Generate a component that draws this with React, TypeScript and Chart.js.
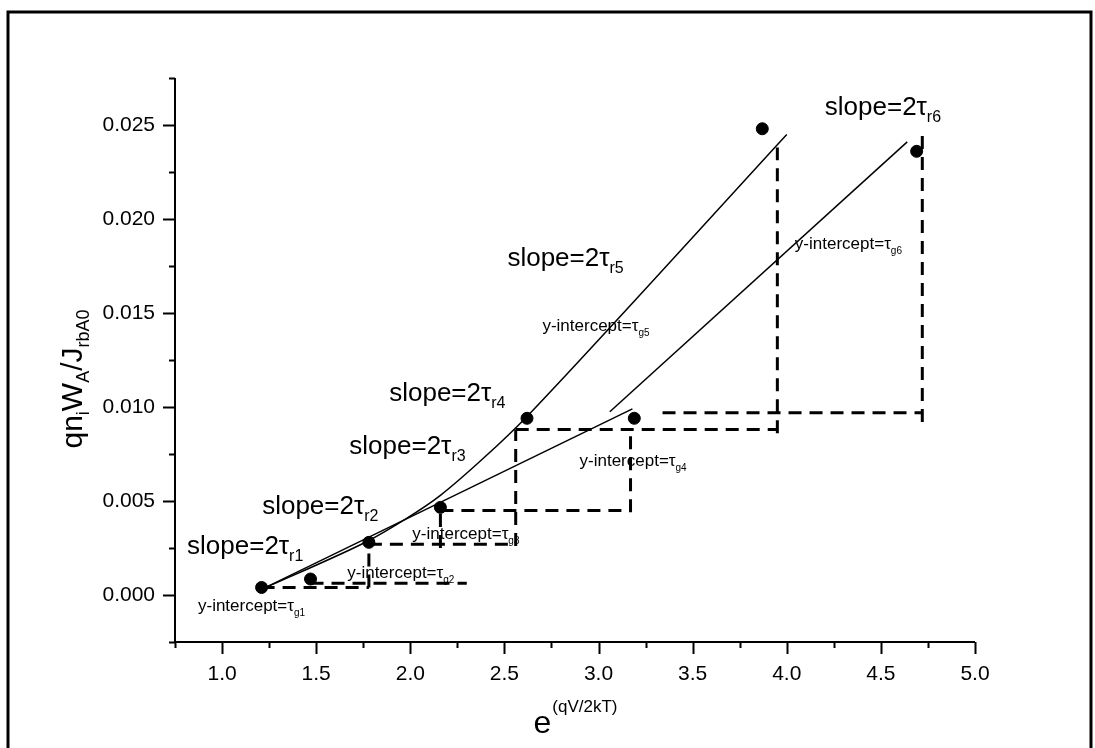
import React, { useEffect, useRef } from 'react';
import { Chart, registerables } from 'chart.js';

Chart.register(...registerables);

const FONT = '"Liberation Sans", Arial, Helvetica, sans-serif';

// measured points
const pointX = [1.21, 1.47, 1.78, 2.16, 2.62, 3.19, 3.87, 4.69];
const pointY = [0.0004, 0.00085, 0.0028, 0.00466, 0.0094, 0.0094, 0.0248, 0.0236];

// fitted solid lines
const fitAX = [1.21, 3.18];
const fitAY = [0.0003, 0.0099];
const fitBX = [1.21, 1.78, 2.16, 2.62, 4.0];
const fitBY = [0.0003, 0.0029, 0.0053, 0.0095, 0.0245];
const fitCX = [3.06, 4.64];
const fitCY = [0.00975, 0.0241];

// dashed y-intercept guides (pairs of x / y end values)
const dashX = [
  [1.21, 1.78], [1.47, 2.3], [1.78, 1.78], [1.78, 2.56], [2.16, 2.16], [2.16, 3.17],
  [2.56, 2.56], [2.56, 3.95], [3.17, 3.17], [3.95, 3.95], [3.34, 4.72], [4.72, 4.72],
];
const dashY = [
  [0.0004, 0.0004], [0.00062, 0.00062], [0.0004, 0.0028], [0.0027, 0.0027], [0.0025, 0.0047], [0.0045, 0.0045],
  [0.0026, 0.0088], [0.0088, 0.0088], [0.0044, 0.0088], [0.0086, 0.0238], [0.0097, 0.0097], [0.0092, 0.0246],
];

// annotation labels
const slopeSubs = ['r1', 'r2', 'r3', 'r4', 'r5', 'r6'];
const slopeAtX = [0.814, 1.213, 1.676, 1.888, 2.516, 4.202];
const slopeAtY = [0.00266, 0.0048, 0.0080, 0.0108, 0.0180, 0.0260];
const interceptSubs = ['g1', 'g2', 'g3', 'g4', 'g5', 'g6'];
const interceptAtX = [0.872, 1.665, 2.011, 2.899, 2.702, 4.043];
const interceptAtY = [-0.00053, 0.00124, 0.0033, 0.00718, 0.01436, 0.01872];

const xMin = 0.75, xMax = 5.0, xStep = 0.25, xLabelEvery = 0.5;
const yMin = -0.0025, yMax = 0.0275, yStep = 0.0025, yLabelEvery = 0.005;

const isMult = (v: number, m: number) => Math.abs(v / m - Math.round(v / m)) < 1e-6;

type Part = { t: string; size: number; dy: number };

function drawRich(ctx: CanvasRenderingContext2D, parts: Part[], x: number, y: number, center = false) {
  let w = 0;
  parts.forEach((p) => {
    ctx.font = `${p.size}px ${FONT}`;
    w += ctx.measureText(p.t).width;
  });
  let cx = center ? x - w / 2 : x;
  ctx.textAlign = 'left';
  ctx.textBaseline = 'alphabetic';
  parts.forEach((p) => {
    ctx.font = `${p.size}px ${FONT}`;
    ctx.fillText(p.t, cx, y + p.dy);
    cx += ctx.measureText(p.t).width;
  });
}

const overlay = {
  id: 'overlay',
  afterDraw(chart: any) {
    const { ctx, chartArea: a } = chart;
    const xs = chart.scales.x;
    const ys = chart.scales.y;
    ctx.save();
    ctx.strokeStyle = '#000';
    ctx.fillStyle = '#000';
    // outer frame
    ctx.lineWidth = 3;
    ctx.beginPath();
    ctx.moveTo(8, 748);
    ctx.lineTo(8, 12);
    ctx.lineTo(1091, 12);
    ctx.lineTo(1091, 748);
    ctx.stroke();
    // axes
    ctx.lineWidth = 2;
    ctx.beginPath();
    ctx.moveTo(a.left, a.top);
    ctx.lineTo(a.left, a.bottom);
    ctx.lineTo(a.right, a.bottom);
    ctx.stroke();
    // ticks
    ctx.beginPath();
    ys.ticks.forEach((t: any) => {
      const py = Math.round(ys.getPixelForValue(t.value)) + 0.5;
      const len = isMult(t.value, yLabelEvery) ? 12 : 6;
      ctx.moveTo(a.left - len, py);
      ctx.lineTo(a.left, py);
    });
    xs.ticks.forEach((t: any) => {
      const px = Math.round(xs.getPixelForValue(t.value)) + 0.5;
      const len = isMult(t.value, xLabelEvery) ? 12 : 6;
      ctx.moveTo(px, a.bottom);
      ctx.lineTo(px, a.bottom + len);
    });
    ctx.stroke();

    // annotations
    slopeSubs.forEach((s, i) => {
      const px = xs.getPixelForValue(slopeAtX[i]);
      const py = ys.getPixelForValue(slopeAtY[i]);
      drawRich(ctx, [
        { t: 'slope=2\u03C4', size: 26, dy: 0 },
        { t: s, size: 16, dy: 7 },
      ], px, py + 9);
    });
    interceptSubs.forEach((s, i) => {
      const px = xs.getPixelForValue(interceptAtX[i]);
      const py = ys.getPixelForValue(interceptAtY[i]);
      drawRich(ctx, [
        { t: 'y-intercept=\u03C4', size: 17, dy: 0 },
        { t: s, size: 10, dy: 5 },
      ], px, py + 6);
    });

    // x title
    const cxm = (a.left + a.right) / 2;
    ctx.font = `32px ${FONT}`;
    const eW = ctx.measureText('e').width;
    ctx.font = `17px ${FONT}`;
    const sW = ctx.measureText('(qV/2kT)').width;
    const start = cxm - (eW + sW) / 2;
    drawRich(ctx, [{ t: 'e', size: 32, dy: 0 }], start, 733);
    drawRich(ctx, [{ t: '(qV/2kT)', size: 17, dy: 0 }], start + eW + 1, 712);

    // y title (rotated)
    ctx.translate(82, 379);
    ctx.rotate(-Math.PI / 2);
    drawRich(ctx, [
      { t: 'qn', size: 30, dy: 0 },
      { t: 'i', size: 18, dy: 7 },
      { t: 'W', size: 30, dy: 0 },
      { t: 'A', size: 18, dy: 7 },
      { t: '/J', size: 30, dy: 0 },
      { t: 'rbA0', size: 18, dy: 7 },
    ], 0, 0, true);
    ctx.restore();
  },
};

const toPts = (xs: number[], ys: number[]) => xs.map((x, i) => ({ x, y: ys[i] }));

export default function App() {
  const ref = useRef<HTMLCanvasElement>(null);
  useEffect(() => {
    if (!ref.current) return;
    const lineDs = (xs: number[], ys: number[], tension = 0) => ({
      data: toPts(xs, ys),
      showLine: true,
      borderColor: '#000',
      borderWidth: 1.5,
      pointRadius: 0,
      tension,
      order: 2,
    });
    const dashDs = dashX.map((xs, i) => ({
      data: toPts(xs, dashY[i]),
      showLine: true,
      borderColor: '#000',
      borderWidth: 3,
      borderDash: [13, 8],
      pointRadius: 0,
      order: 3,
    }));
    const chart = new Chart(ref.current, {
      type: 'scatter',
      data: {
        datasets: [
          {
            data: toPts(pointX, pointY),
            backgroundColor: '#000',
            borderColor: '#000',
            pointRadius: 6,
            pointStyle: 'circle',
            showLine: false,
            order: 0,
          },
          lineDs(fitAX, fitAY),
          lineDs(fitBX, fitBY, 0.25),
          lineDs(fitCX, fitCY),
          ...dashDs,
        ] as any,
      },
      options: {
        animation: false,
        responsive: false,
        layout: { padding: { left: 0, top: 78, right: 120, bottom: 0 } },
        plugins: { legend: { display: false }, tooltip: { enabled: false } },
        scales: {
          x: {
            type: 'linear',
            min: xMin,
            max: xMax,
            grid: { display: false, drawTicks: false },
            border: { display: false },
            ticks: {
              stepSize: xStep,
              padding: 20,
              color: '#000',
              font: { family: FONT, size: 21 },
              maxRotation: 0,
              autoSkip: false,
              callback: (v: any) => (isMult(Number(v), xLabelEvery) ? Number(v).toFixed(1) : ''),
            },
            afterFit: (s: any) => { s.height = 106; },
          },
          y: {
            type: 'linear',
            min: yMin,
            max: yMax,
            grid: { display: false, drawTicks: false },
            border: { display: false },
            ticks: {
              stepSize: yStep,
              padding: 20,
              color: '#000',
              font: { family: FONT, size: 21 },
              autoSkip: false,
              callback: (v: any) => (isMult(Number(v), yLabelEvery) ? Number(v).toFixed(3) : ''),
            },
            afterFit: (s: any) => { s.width = 175; },
          },
        },
      } as any,
      plugins: [overlay],
    });
    return () => chart.destroy();
  }, []);
  return (
    <div style={{ position: 'absolute', left: 0, top: 0, width: 1095, height: 748, background: '#fff' }}>
      <canvas ref={ref} width={1095} height={748} style={{ display: 'block' }} />
    </div>
  );
}
